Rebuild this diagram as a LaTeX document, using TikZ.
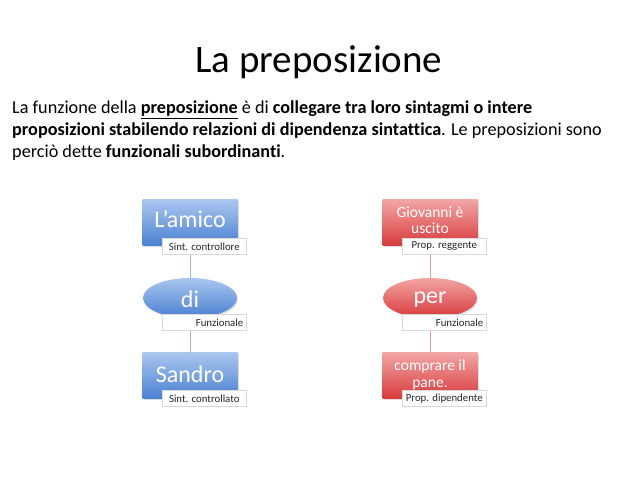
\documentclass[tikz,border=0pt]{standalone}
\usepackage{fontspec}
\setmainfont[Ligatures={NoCommon}]{Carlito}
\usetikzlibrary{shadows,shapes.geometric}
\definecolor{bluetop}{HTML}{A9C6EE}
\definecolor{bluebot}{HTML}{4A80D2}
\definecolor{redtop}{HTML}{F2A4A4}
\definecolor{redbot}{HTML}{D83A3C}
\definecolor{linec}{HTML}{9DB5D8}
\definecolor{linered}{HTML}{E0A0A0}
\tikzset{
  bluebox/.style={rectangle, minimum width=95pt, minimum height=46pt, top color=bluetop, bottom color=bluebot, draw=none, drop shadow={opacity=0.25, shadow xshift=1pt, shadow yshift=-1.5pt}},
  redbox/.style={rectangle, minimum width=95pt, minimum height=46pt, top color=redtop, bottom color=redbot, draw=none, drop shadow={opacity=0.25, shadow xshift=1pt, shadow yshift=-1.5pt}},
  blueell/.style={ellipse, minimum width=94pt, minimum height=40pt, inner sep=0pt, top color=bluetop, bottom color=bluebot, draw=none, drop shadow={opacity=0.25, shadow xshift=1pt, shadow yshift=-1.5pt}},
  redell/.style={ellipse, minimum width=94pt, minimum height=40pt, inner sep=0pt, top color=redtop, bottom color=redbot, draw=none, drop shadow={opacity=0.25, shadow xshift=1pt, shadow yshift=-1.5pt}},
  tag/.style={rectangle, fill=white, draw=black!15, line width=0.6pt, minimum width=84pt, minimum height=16pt, inner sep=1pt, font=\fontsize{10.8}{12}\selectfont, text=black!85},
  bigw/.style={text=white, font=\fontsize{24}{27}\selectfont},
  smallw/.style={text=white, font=\fontsize{15.5}{16.5}\selectfont, align=center},
  conn/.style={draw=linec, line width=0.8pt},
  connr/.style={draw=linered, line width=0.8pt},
  para/.style={anchor=base west, inner sep=0pt, font=\fontsize{18.2}{20}\selectfont}
}
\begin{document}
\begin{tikzpicture}[x=1pt,y=-1pt]
\useasboundingbox (0,0) rectangle (638,478);
\node[anchor=base, inner sep=0pt, font=\fontsize{39}{42}\selectfont] (title) at (319,73) {La preposizione};
\node[para] (p1) at (12,114) {La funzione della \underline{\textbf{preposizione}} è di \textbf{collegare tra loro sintagmi o intere}};
\node[para] (p2) at (12,136) {\textbf{proposizioni stabilendo relazioni di dipendenza sintattica}. Le preposizioni sono};
\node[para] (p3) at (12,158) {perciò dette \textbf{funzionali subordinanti}.};

% left column
\node[bluebox] (amico) at (190,223) {};
\node[blueell] (di) at (190,298) {};
\node[bluebox] (sandro) at (190,376) {};
\draw[conn] (amico.south) -- (di.north);
\draw[conn] (di.south) -- (sandro.north);
\node[bigw] (amicot) at (190,219) {L’amico};
\node[bigw] (dit) at (190,299) {di};
\node[bigw] (sandrot) at (190,374) {Sandro};
\node[tag, anchor=north west] (t1) at (162,238) {Sint. controllore};
\node[tag, anchor=north west, align=right, text width=78pt] (t2) at (162,314) {Funzionale};
\node[tag, anchor=north west] (t3) at (162,390) {Sint. controllato};

% right column
\node[redbox] (giov) at (430,223) {};
\node[redell] (per) at (430,298) {};
\node[redbox] (compr) at (430,376) {};
\draw[connr] (giov.south) -- (per.north);
\draw[connr] (per.south) -- (compr.north);
\node[smallw] (giovt) at (430,220) {Giovanni è\\uscito};
\node[bigw] (pert) at (430,300) {per};
\node[smallw] (comprt) at (430,375) {comprare il\\pane.};
\node[tag, anchor=north west] (t4) at (402,238) {Prop. reggente};
\node[tag, anchor=north west, align=right, text width=78pt] (t5) at (402,314) {Funzionale};
\node[tag, anchor=north west] (t6) at (402,390) {Prop. dipendente};
\end{tikzpicture}
\end{document}
